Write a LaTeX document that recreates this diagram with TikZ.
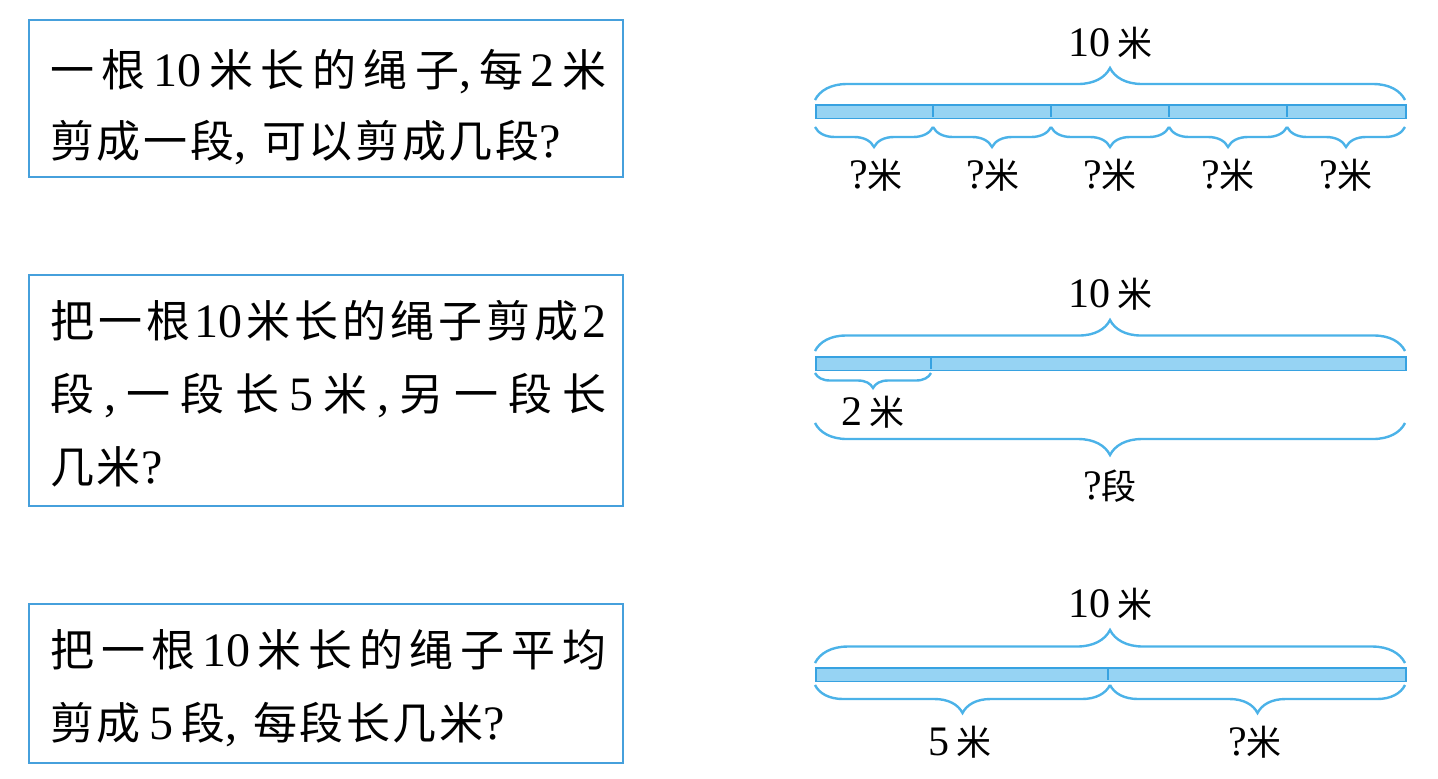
\documentclass[tikz,border=0pt]{standalone}
\usepackage{fontspec}
\setmainfont{Liberation Serif}
\newfontfamily\zh[LetterSpace=6]{Noto Sans CJK SC}
\newfontfamily\zhl{Noto Sans CJK SC}
\usetikzlibrary{decorations.pathreplacing}
\definecolor{boxblue}{RGB}{70,160,220}
\definecolor{braceblue}{RGB}{75,178,232}
\definecolor{barfill}{RGB}{150,211,243}
\definecolor{barline}{RGB}{55,162,225}
\newcommand\Zq[1]{{\fontsize{22pt}{26pt}\zh #1}}
\newcommand\Lz[1]{{\fontsize{17.5pt}{20pt}\zhl #1}}
\begin{document}
\begin{tikzpicture}[x=0.5pt,y=-0.5pt,
  qbox/.style={draw=boxblue, line width=1.1pt, inner sep=0pt, anchor=north west},
  qtext/.style={anchor=base west, inner sep=0pt, font=\fontsize{24pt}{28pt}\selectfont},
  bar/.style={draw=barline, fill=barfill, line width=0.8pt, inner sep=0pt, anchor=north west, minimum width=295pt, minimum height=6.8pt},
  divl/.style={draw=barline, line width=0.6pt},
  brc/.style={draw=braceblue, line width=1.2pt, decorate, decoration={brace, amplitude=#1}},
  lbl/.style={inner sep=0pt, font=\fontsize{21pt}{24pt}\selectfont}]
\useasboundingbox (0,0) rectangle (1438,778);

% ---------- question boxes ----------
\node[qbox, minimum width=297pt, minimum height=78.5pt] (q1) at (28,19) {};
\node[qbox, minimum width=297pt, minimum height=115.5pt] (q2) at (28,274) {};
\node[qbox, minimum width=297pt, minimum height=79.5pt] (q3) at (28,603) {};

\node[qtext] (t11) at (50,86) {\makebox[278pt][s]{\Zq{一}\hfil\Zq{根}\hfil 10\hfil\Zq{米}\hfil\Zq{长}\hfil\Zq{的}\hfil\Zq{绳}\hfil\Zq{子},\hfil\Zq{每}\hfil 2\hfil\Zq{米}}};
\node[qtext] (t12) at (50,157) {\Zq{剪成一段},\hspace{8pt}\Zq{可以剪成几段}?};

\node[qtext] (t21) at (50,337) {\makebox[278pt][s]{\Zq{把}\hfil\Zq{一}\hfil\Zq{根}\hfil 10\hfil\Zq{米}\hfil\Zq{长}\hfil\Zq{的}\hfil\Zq{绳}\hfil\Zq{子}\hfil\Zq{剪}\hfil\Zq{成}\hfil 2}};
\node[qtext] (t22) at (50,410) {\makebox[278pt][s]{\Zq{段}\hfil,\hfil\Zq{一}\hfil\Zq{段}\hfil\Zq{长}\hfil 5\hfil\Zq{米}\hfil,\hfil\Zq{另}\hfil\Zq{一}\hfil\Zq{段}\hfil\Zq{长}}};
\node[qtext] (t23) at (50,483) {\Zq{几米}?};

\node[qtext] (t31) at (50,666) {\makebox[278pt][s]{\Zq{把}\hfil\Zq{一}\hfil\Zq{根}\hfil 10\hfil\Zq{米}\hfil\Zq{长}\hfil\Zq{的}\hfil\Zq{绳}\hfil\Zq{子}\hfil\Zq{平}\hfil\Zq{均}}};
\node[qtext] (t32) at (50,739) {\Zq{剪成}\,5\,\Zq{段},\hspace{8pt}\Zq{每段长几米}?};

% ---------- diagram 1 ----------
\node[lbl] (l1top) at (1110,43) {10\,\Lz{米}};
\coordinate (a0) at (815,100);
\coordinate (a1) at (1405,100);
\draw[brc=16pt] (a0) -- (a1);
\node[bar] (bar1) at (815,104) {};
\coordinate (d11t) at (933,104); \coordinate (d11b) at (933,117);
\coordinate (d12t) at (1051,104); \coordinate (d12b) at (1051,117);
\coordinate (d13t) at (1169,104); \coordinate (d13b) at (1169,117);
\coordinate (d14t) at (1287,104); \coordinate (d14b) at (1287,117);
\draw[divl] (d11t) -- (d11b) (d12t) -- (d12b) (d13t) -- (d13b) (d14t) -- (d14b);
\coordinate (u0) at (815,127);
\coordinate (u1) at (933,127);
\coordinate (u2) at (1051,127);
\coordinate (u3) at (1169,127);
\coordinate (u4) at (1287,127);
\coordinate (u5) at (1405,127);
\draw[brc=10pt] (u1) -- (u0);
\draw[brc=10pt] (u2) -- (u1);
\draw[brc=10pt] (u3) -- (u2);
\draw[brc=10pt] (u4) -- (u3);
\draw[brc=10pt] (u5) -- (u4);
\node[lbl] (l1a) at (876,175) {?\Lz{米}};
\node[lbl] (l1b) at (993,175) {?\Lz{米}};
\node[lbl] (l1c) at (1110,175) {?\Lz{米}};
\node[lbl] (l1d) at (1228,175) {?\Lz{米}};
\node[lbl] (l1e) at (1346,175) {?\Lz{米}};

% ---------- diagram 2 ----------
\node[lbl] (l2top) at (1110,294) {10\,\Lz{米}};
\coordinate (b0) at (815,351);
\coordinate (b1) at (1405,351);
\draw[brc=15.5pt] (b0) -- (b1);
\node[bar] (bar2) at (815,356) {};
\coordinate (d21t) at (931,356); \coordinate (d21b) at (931,369);
\draw[divl] (d21t) -- (d21b);
\coordinate (v0) at (815,373);
\coordinate (v1) at (931,373);
\draw[brc=7.5pt] (v1) -- (v0);
\node[lbl] (l2a) at (873,412) {2\,\Lz{米}};
\coordinate (w0) at (815,423);
\coordinate (w1) at (1405,423);
\draw[brc=16pt] (w1) -- (w0);
\node[lbl] (l2b) at (1110,486) {?\Lz{段}};

% ---------- diagram 3 ----------
\node[lbl] (l3top) at (1110,604) {10\,\Lz{米}};
\coordinate (c0) at (815,663);
\coordinate (c1) at (1405,663);
\draw[brc=16.5pt] (c0) -- (c1);
\node[bar] (bar3) at (815,667) {};
\coordinate (d31t) at (1108,667); \coordinate (d31b) at (1108,680);
\draw[divl] (d31t) -- (d31b);
\coordinate (x0) at (815,685);
\coordinate (x1) at (1110,685);
\coordinate (x2) at (1405,685);
\draw[brc=14pt] (x1) -- (x0);
\draw[brc=14pt] (x2) -- (x1);
\node[lbl] (l3a) at (960,742) {5\,\Lz{米}};
\node[lbl] (l3b) at (1255,742) {?\Lz{米}};
\end{tikzpicture}
\end{document}
